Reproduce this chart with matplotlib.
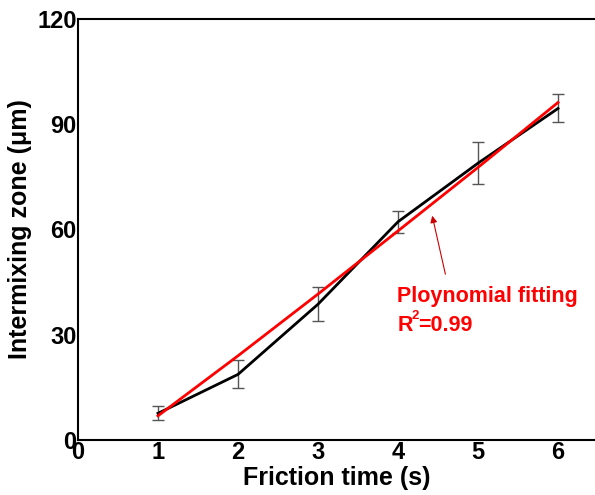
import matplotlib.pyplot as plt

plt.rcParams['font.family'] = ['Liberation Sans', 'DejaVu Sans']
plt.rcParams['font.weight'] = 'bold'

# measured data
friction_time = [1, 2, 3, 4, 5, 6]
zone = [7.6, 18.7, 38.7, 62.2, 78.9, 94.5]
zone_err = [2.0, 4.0, 4.8, 3.1, 6.0, 4.0]

# polynomial fit
fit_x = [1, 2, 3, 4, 5, 6]
fit_y = [6.9, 24.0, 41.6, 59.6, 77.7, 96.2]

x_ticks = [0, 1, 2, 3, 4, 5, 6]
y_ticks = [0, 30, 60, 90, 120]

fig = plt.figure(figsize=(5.95, 4.95), dpi=100)
ax = fig.add_axes([78 / 595, 55 / 495, 517 / 595, 421 / 495])

ax.errorbar(friction_time, zone, yerr=zone_err, fmt='none', ecolor='#555555',
            elinewidth=1, capsize=4, capthick=1, zorder=2)
ax.plot(friction_time, zone, color='black', lw=2, zorder=3)
ax.plot(fit_x, fit_y, color='red', lw=2, zorder=4)

ax.annotate('', xy=(4.42, 64.7), xytext=(4.6, 46.5),
            arrowprops=dict(arrowstyle='-|>', color='#cc0000', lw=0.8,
                            mutation_scale=10))
ax.text(3.99, 39.4, 'Ploynomial fitting', color='red', fontsize=15.5,
        fontweight='bold', va='baseline')
# R^2 with a small raised 2
r = ax.text(3.99, 31.1, 'R', color='red', fontsize=15.5, fontweight='bold',
            va='baseline')
ax.text(4.17, 34.6, '2', color='red', fontsize=9.5, fontweight='bold',
        va='baseline')
ax.text(4.25, 31.1, '=0.99', color='red', fontsize=15.5, fontweight='bold',
        va='baseline')

ax.set_xlim(0, 517 / 80)
ax.set_ylim(0, 120)
ax.set_xticks(x_ticks)
ax.set_yticks(y_ticks)
ax.tick_params(length=0, labelsize=17, pad=1)
for lab in ax.get_xticklabels() + ax.get_yticklabels():
    lab.set_fontweight('bold')

ax.spines['right'].set_visible(False)
for s in ['left', 'bottom', 'top']:
    ax.spines[s].set_linewidth(1.5)

ax.set_xlabel('Friction time (s)', fontsize=18, fontweight='bold', labelpad=1)
ax.set_ylabel('Intermixing zone (\u03bcm)', fontsize=18, fontweight='bold',
              labelpad=4)

fig.savefig('out.png', dpi=100)
